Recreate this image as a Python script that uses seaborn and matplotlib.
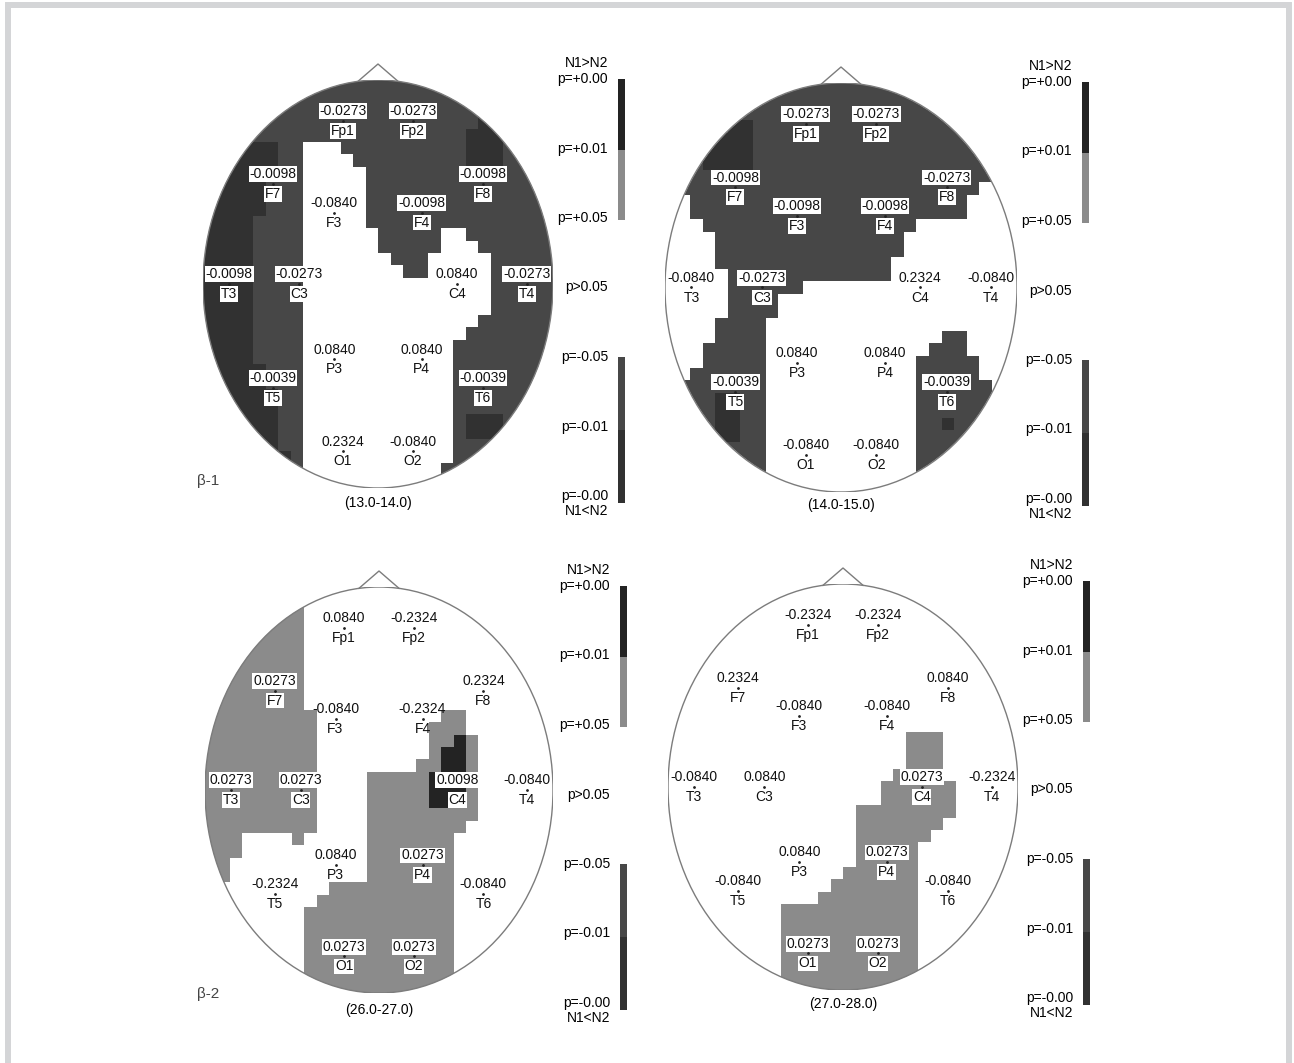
import numpy as np
import matplotlib
matplotlib.use('Agg')
import matplotlib.pyplot as plt
import seaborn as sns
from matplotlib.colors import ListedColormap
from matplotlib.patches import Ellipse
from matplotlib.lines import Line2D

plt.rcParams['font.family'] = ['Liberation Sans', 'DejaVu Sans']

W, H = 1294, 1063

# electrodes of the 10-20 system
electrodes = ['Fp1', 'Fp2', 'F7', 'F3', 'F4', 'F8', 'T3', 'C3',
              'C4', 'T4', 'T5', 'P3', 'P4', 'T6', 'O1', 'O2']

# p values per electrode (sign = direction N1>N2 / N1<N2)
p_13_14 = [-0.0273, -0.0273, -0.0098, -0.0840, -0.0098, -0.0098, -0.0098, -0.0273,
           0.0840, -0.0273, -0.0039, 0.0840, 0.0840, -0.0039, 0.2324, -0.0840]
p_14_15 = [-0.0273, -0.0273, -0.0098, -0.0098, -0.0098, -0.0273, -0.0840, -0.0273,
           0.2324, -0.0840, -0.0039, 0.0840, 0.0840, -0.0039, -0.0840, -0.0840]
p_26_27 = [0.0840, -0.2324, 0.0273, -0.0840, -0.2324, 0.2324, 0.0273, 0.0273,
           0.0098, -0.0840, -0.2324, 0.0840, 0.0273, -0.0840, 0.0273, 0.0273]
p_27_28 = [-0.2324, -0.2324, 0.2324, -0.0840, -0.0840, 0.0840, -0.0840, 0.0840,
           0.0273, -0.2324, -0.0840, 0.0840, 0.0273, -0.0840, 0.0273, 0.0273]

freq_labels = ['(13.0-14.0)', '(14.0-15.0)', '(26.0-27.0)', '(27.0-28.0)']
band_labels = ['β-1', '', 'β-2', '']

# significance maps (28 x 33 cells over the head)
# .  p>0.05   c  N1>N2 p<0.05   d  N1>N2 p<0.01   a  N1<N2 p<0.05   b  N1<N2 p<0.01
map_13_14 = [
    "aaaaaaaaaaaaaaaaaaaaaaaaaaaa",
    "aaaaaaaaaaaaaaaaaaaaaaaaaaaa",
    "aaaaaaaaaaaaaaaaaaaaaaaaaaaa",
    "aaaaaaaaaaaaaaaaaaaaaabaaaaa",
    "aaaaaaaaaaaaaaaaaaaaabbbaaaa",
    "bbbbbbaa...aaaaaaaaaabbbaaaa",
    "bbbbbbaa....aaaaaaaaabbbaaaa",
    "bbbbbbaa.....aaaaaaaaaaaaaaa",
    "bbbbbaaa.....aaaaaaaaaaaaaaa",
    "bbbbbaaa.....aaaaaaaaaaaaaaa",
    "bbbbbaaa.....aaaaaaaaaaaaaaa",
    "bbbbaaaa.....aaaaaaaaaaaaaaa",
    "bbbbaaaa......aaaaa..aaaaaaa",
    "bbbbaaaa......aaaaa...aaaaaa",
    "bbbbaaaa.......aaa.....aaaaa",
    "bbbbaaaa........aa.....aaaaa",
    "bbbbaaaa...............aaaaa",
    "bbbbaaaa...............aaaaa",
    "bbbbaaaa...............aaaaa",
    "bbbbaaaa..............aaaaaa",
    "bbbbaaaa.............aaaaaaa",
    "bbbbaaaa............aaaaaaaa",
    "bbbbaaaa............aaaaaaaa",
    "bbbbbaaa............aaaaaaaa",
    "bbbbbaaa............aaaaaaaa",
    "bbbbbbaa............aaaaaaaa",
    "bbbbbbaa............aaaaaaaa",
    "bbbbbbaa............abbbaaaa",
    "bbbbbbaa............abbbaaaa",
    "bbbbbbaa............aaaaaaaa",
    "bbbbbbba............aaaaaaaa",
    "bbbbbbba...........aaaaaaaaa",
    "bbbbbbba...........aaaaaaaaa",
]
map_14_15 = [
    "aaaaaaaaaaaaaaaaaaaaaaaaaaaa",
    "aaaaaaaaaaaaaaaaaaaaaaaaaaaa",
    "aaaaaaaaaaaaaaaaaaaaaaaaaaaa",
    "aaaaabbaaaaaaaaaaaaaaaaaaaaa",
    "aaaabbbaaaaaaaaaaaaaaaaaaaaa",
    "aaabbbbaaaaaaaaaaaaaaaaaaaaa",
    "aaabbbbaaaaaaaaaaaaaaaaaaaaa",
    "aaaaaaaaaaaaaaaaaaaaaaaaaa..",
    ".aaaaaaaaaaaaaaaaaaaaaaaa...",
    "..aaaaaaaaaaaaaaaaaaaaaa....",
    "..aaaaaaaaaaaaaaaaaaaaaa....",
    "...aaaaaaaaaaaaaaaaa........",
    "....aaaaaaaaaaaaaaa.........",
    "....aaaaaaaaaaaaaaa.........",
    "....aaaaaaaaaaaaaa..........",
    ".....aaaaaaaaaaaaa..........",
    ".....aaaaaa.................",
    ".....aaaa...................",
    ".....aaaa...................",
    "....aaaa....................",
    "....aaaa..............aa....",
    "...aaaaa.............aaa....",
    "...aaaaa............aaaaa...",
    "..aaaaaa............aaaaa...",
    "aaaaaaaa............aaaaaa..",
    "aaaabbaa............aaaaaa..",
    "aaaabbaa............aaaaaaaa",
    "aaaabbaa............aabaaaaa",
    "aaaabbaa............aaaaaaaa",
    "aaaaaaaa............aaaaaaaa",
    "aaaaaaaa............aaaaaaaa",
    "aaaaaaaa............aaaaaaaa",
    "aaaaaaaa............aaaaaaaa",
]
map_26_27 = [
    "............................",
    "cccccccc....................",
    "cccccccc....................",
    "cccccccc....................",
    "cccccccc....................",
    "cccccccc....................",
    "cccccccc....................",
    "cccccccc....................",
    "cccccccc....................",
    "cccccccc....................",
    "ccccccccc..........cc.......",
    "ccccccccc.........ccc.......",
    "ccccccccc.........ccdc......",
    "ccccccccc.........cddc......",
    "ccccccccc........ccddc......",
    "ccccccccc....cccccdddc......",
    "ccccccccc....cccccdddc......",
    "ccccccccc....cccccdddc......",
    "ccccccccc....ccccccccc......",
    "ccccccccc....cccccccc.......",
    "ccc....c.....ccccccc........",
    "ccc..........ccccccc........",
    "cc...........ccccccc........",
    "cc...........ccccccc........",
    "..........cccccccccc........",
    ".........ccccccccccc........",
    "........cccccccccccc........",
    "........cccccccccccc........",
    "........cccccccccccc........",
    "........cccccccccccc........",
    "........cccccccccccc........",
    "........cccccccccccc........",
    "........cccccccccccc........",
]
map_27_28 = [
    "............................",
    "............................",
    "............................",
    "............................",
    "............................",
    "............................",
    "............................",
    "............................",
    "............................",
    "............................",
    "............................",
    "............................",
    "...................ccc......",
    "...................ccc......",
    "...................ccc......",
    "..................cccc......",
    ".................cccccc.....",
    ".................cccccc.....",
    "...............cccccccc.....",
    "...............ccccccc......",
    "...............cccccc.......",
    "...............ccccc........",
    "...............ccccc........",
    "..............cccccc........",
    ".............ccccccc........",
    "............cccccccc........",
    ".........ccccccccccc........",
    ".........ccccccccccc........",
    ".........ccccccccccc........",
    ".........ccccccccccc........",
    ".........ccccccccccc........",
    ".........ccccccccccc........",
    ".........ccccccccccc........",
]

scale_labels = ['p=+0.00', 'p=+0.01', 'p=+0.05', 'p>0.05', 'p=-0.05', 'p=-0.01', 'p=-0.00']
scale_upper = "dc"
scale_lower = "ab"

# electrode layout on the head (x right, y up, radius 1)
montage = {
    'Fp1': (-0.20, 0.80), 'Fp2': (0.20, 0.80),
    'F7': (-0.60, 0.49), 'F8': (0.60, 0.49),
    'F3': (-0.25, 0.35), 'F4': (0.25, 0.35),
    'T3': (-0.85, 0.0), 'C3': (-0.45, 0.0), 'C4': (0.45, 0.0), 'T4': (0.85, 0.0),
    'P3': (-0.25, -0.37), 'P4': (0.25, -0.37),
    'T5': (-0.60, -0.51), 'T6': (0.60, -0.51),
    'O1': (-0.20, -0.82), 'O2': (0.20, -0.82),
}

codes = {'.': 0, 'c': 1, 'd': 2, 'a': 3, 'b': 4}
cmap = ListedColormap(['#ffffff', '#8b8b8b', '#232323', '#474747', '#313131'])
edge = '#7c7c7c'

# panel geometry in pixels: head box, scale top, scale text right edge, label rows
panels = [
    dict(x0=203, x1=553, y0=80, y1=488, top=79, tr=608, freq_y=503, band_y=481),
    dict(x0=665, x1=1017, y0=83, y1=492, top=82, tr=1072, freq_y=505, band_y=0),
    dict(x0=205, x1=553, y0=587, y1=993, top=586, tr=610, freq_y=1010, band_y=994),
    dict(x0=668, x1=1018, y0=584, y1=990, top=581, tr=1073, freq_y=1004, band_y=0),
]
values = [p_13_14, p_14_15, p_26_27, p_27_28]
maps = [map_13_14, map_14_15, map_26_27, map_27_28]


def to_grid(rows, n=28):
    return np.array([[codes[ch] for ch in r.ljust(n, r[-1])[:n]] for r in rows])


def fx(x):
    return x / W


def fy(y):
    return 1 - y / H


fig = plt.figure(figsize=(W / 100, H / 100), dpi=100)
fig.patch.set_facecolor('white')

for g, vals, rows, freq, band in zip(panels, values, maps, freq_labels, band_labels):
    grid = to_grid(rows)
    nrow, ncol = grid.shape
    ax = fig.add_axes([fx(g['x0']), fy(g['y1']), (g['x1'] - g['x0']) / W, (g['y1'] - g['y0']) / H])
    sns.heatmap(grid, ax=ax, cmap=cmap, vmin=-0.5, vmax=4.5, cbar=False,
                xticklabels=False, yticklabels=False, linewidths=0)
    mesh = ax.collections[0]
    head = Ellipse((ncol / 2, nrow / 2), ncol, nrow, fc='none', ec=edge, lw=1.0, zorder=3)
    ax.add_patch(head)
    mesh.set_clip_path(head)

    dx = ncol / (g['x1'] - g['x0'])
    dy = nrow / (g['y1'] - g['y0'])
    ax.plot([ncol / 2 - 20 * dx, ncol / 2, ncol / 2 + 20 * dx],
            [1.3 * dy, -16 * dy, 1.3 * dy], color=edge, lw=1.0, clip_on=False)

    for name, v in zip(electrodes, vals):
        nx, ny = montage[name]
        x = (nx + 1) / 2 * ncol
        y = (1 - ny) / 2 * nrow
        box = dict(boxstyle='square,pad=0.06', fc='white', ec='none') if abs(v) < 0.05 else None
        ax.annotate(f'{v:.4f}', (x, y), xytext=(0, 7.0), textcoords='offset points',
                    ha='center', va='center', fontsize=10, color='#111111', bbox=box, zorder=5)
        ax.annotate(name, (x, y), xytext=(0, -7.2), textcoords='offset points',
                    ha='center', va='center', fontsize=10, color='#111111', bbox=box, zorder=5)
        ax.plot(x, y, 'o', ms=1.0, color='#222222', zorder=6)

    ax.set_xlim(0, ncol)
    ax.set_ylim(nrow, 0)
    ax.set_axis_off()

    cx = (g['x0'] + g['x1']) / 2
    fig.text(fx(cx), fy(g['freq_y']), freq, ha='center', va='center', fontsize=10)
    if band:
        fig.text(fx(197), fy(g['band_y']), band, ha='left', va='center', fontsize=11, color='#444444')

    # significance scale
    top, tr = g['top'], g['tr']
    for k, lab in enumerate(scale_labels):
        fig.text(fx(tr), fy(top + k * 69.5), lab, ha='right', va='center', fontsize=10)
    fig.text(fx(tr), fy(top - 16), 'N1>N2', ha='right', va='center', fontsize=10)
    fig.text(fx(tr), fy(top + 432), 'N1<N2', ha='right', va='center', fontsize=10)
    for seg, (ya, yb) in zip([scale_upper, scale_lower], [(top, top + 141), (top + 278, top + 424)]):
        cax = fig.add_axes([fx(tr + 10), fy(yb), 7 / W, (yb - ya) / H])
        sns.heatmap(np.array([[codes[ch]] for ch in seg]), ax=cax, cmap=cmap, vmin=-0.5, vmax=4.5,
                    cbar=False, xticklabels=False, yticklabels=False)
        cax.set_axis_off()

# light frame round the figure
frame = Line2D([fx(8), fx(8), fx(1289), fx(1289)], [fy(1063), fy(4.5), fy(4.5), fy(1063)],
               transform=fig.transFigure, color='#d4d5d7', lw=4.3, solid_joinstyle='miter')
fig.add_artist(frame)

fig.savefig('out.png', dpi=100, facecolor='white')
